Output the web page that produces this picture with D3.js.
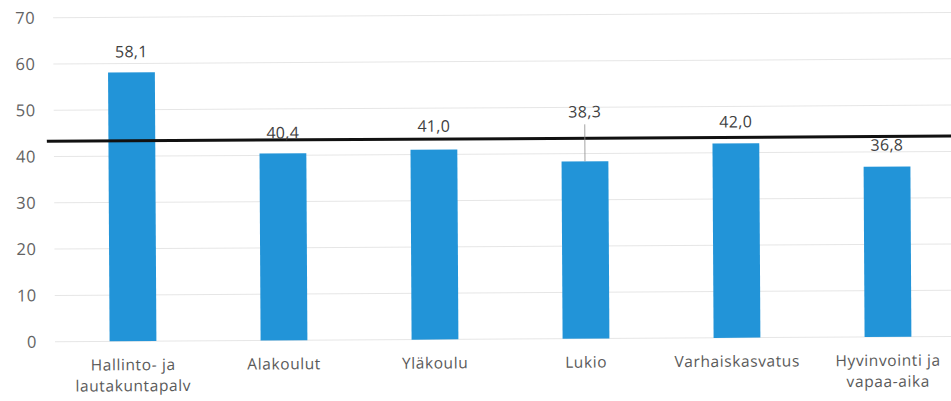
<!DOCTYPE html>
<html>
<meta charset="utf-8">
<script src="https://d3js.org/d3.v7.min.js"></script>
<style>
  body { margin: 0; background: #fff; }
  text { font-family: "Open Sans", Lato, sans-serif; }
</style>
<div id="chart_div"></div>

<script>

// data
var categories = [["Hallinto- ja", "lautakuntapalv"], ["Alakoulut"], ["Yläkoulu"], ["Lukio"], ["Varhaiskasvatus"], ["Hyvinvointi ja", "vapaa-aika"]]
var values = [58.1, 40.4, 41.0, 38.3, 42.0, 36.8]
var refValue = 43.3
var yTicks = [0, 10, 20, 30, 40, 50, 60, 70]

// label lift above bar top (Lukio label was dragged up with a leader line)
var labelLift = [15, 15, 18, 44, 16, 16]

var width = 951, height = 401;

var svg = d3.select("#chart_div")
  .append("svg")
    .attr("width", width)
    .attr("height", height);

// the scan is tilted a little
var g = svg.append("g")
  .attr("transform", "rotate(-0.33, 0, 342)");

var keys = categories.map(function(c) { return c.join(" "); });

var x = d3.scaleBand()
  .domain(keys)
  .range([57.5, 963.5])
  .paddingInner(0.69)
  .paddingOuter(0.345);

var y = d3.scaleLinear()
  .domain([0, 70])
  .range([342, 18]);

// gridlines
g.selectAll(".grid")
  .data(yTicks)
  .enter()
  .append("line")
    .attr("x1", 55)
    .attr("x2", 970)
    .attr("y1", function(d) { return y(d); })
    .attr("y2", function(d) { return y(d); })
    .attr("stroke", "#e6e6e6")
    .attr("stroke-width", 1);

// y axis labels
var yAxis = g.append("g")
  .attr("transform", "translate(37,0)")
  .call(d3.axisLeft(y).tickValues(yTicks).tickSize(0).tickPadding(0));
yAxis.select(".domain").remove();
yAxis.selectAll("text")
  .attr("fill", "#636363")
  .style("font-family", "'Open Sans', sans-serif")
  .style("font-size", "16.5px")
  .style("letter-spacing", "0.5px");

// bars
g.selectAll(".bar")
  .data(values)
  .enter()
  .append("rect")
    .attr("x", function(d, i) { return x(keys[i]); })
    .attr("y", function(d) { return y(d); })
    .attr("width", x.bandwidth())
    .attr("height", function(d) { return y(0) - y(d); })
    .attr("fill", "#2294d8");

// reference line
g.append("line")
  .attr("x1", 48)
  .attr("x2", 970)
  .attr("y1", y(refValue))
  .attr("y2", y(refValue))
  .attr("stroke", "#111")
  .attr("stroke-width", 3);

// leader line for moved label
values.forEach(function(d, i) {
  if (labelLift[i] > 25) {
    g.append("line")
      .attr("x1", x(keys[i]) + x.bandwidth() / 2)
      .attr("x2", x(keys[i]) + x.bandwidth() / 2)
      .attr("y1", y(d) - labelLift[i] + 7)
      .attr("y2", y(d))
      .attr("stroke", "#8c8c8c")
      .attr("stroke-width", 0.8);
  }
});

// value labels
g.selectAll(".vlabel")
  .data(values)
  .enter()
  .append("text")
    .attr("x", function(d, i) { return x(keys[i]) + x.bandwidth() / 2; })
    .attr("y", function(d, i) { return y(d) - labelLift[i]; })
    .attr("text-anchor", "middle")
    .attr("fill", "#404040")
    .style("font-size", "16px")
    .style("letter-spacing", "0.3px")
    .text(function(d) { return d.toFixed(1).replace(".", ","); });

// category labels
var cat = g.selectAll(".cat")
  .data(categories)
  .enter()
  .append("text")
    .attr("x", function(d, i) { return x(keys[i]) + x.bandwidth() / 2; })
    .attr("y", 371)
    .attr("text-anchor", "middle")
    .attr("fill", "#5a5a5a")
    .style("font-size", "15.5px")
    .style("letter-spacing", "0.6px");

cat.selectAll("tspan")
  .data(function(d) { return d; })
  .enter()
  .append("tspan")
    .attr("x", function() { return d3.select(this.parentNode).attr("x"); })
    .attr("dy", function(d, j) { return j === 0 ? 0 : 21; })
    .text(function(d) { return d; });

</script>
</html>
